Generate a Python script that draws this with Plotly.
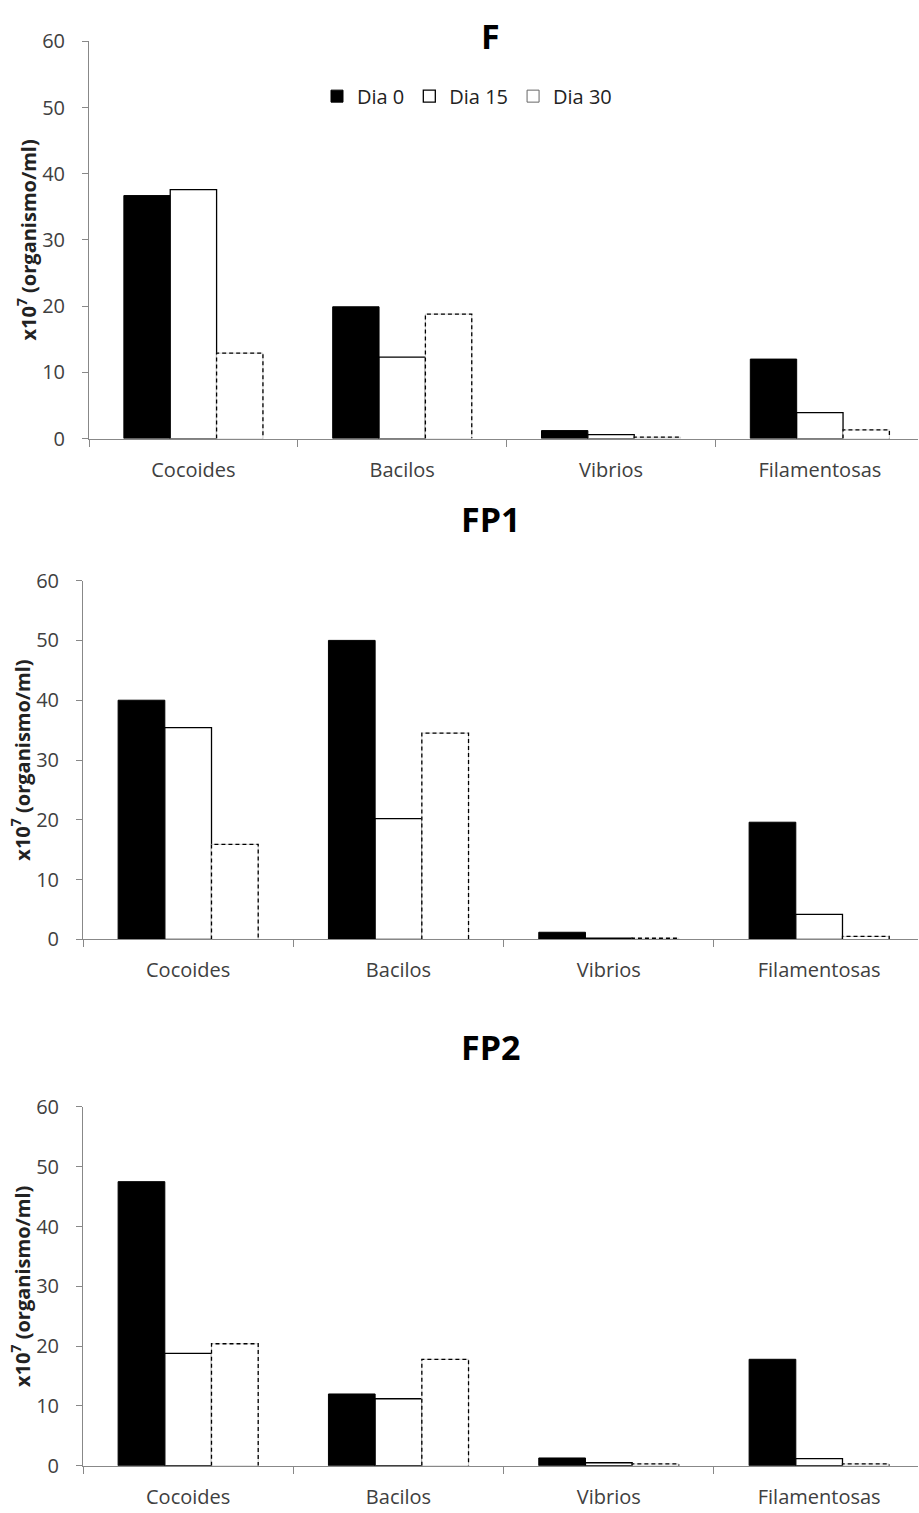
import plotly.graph_objects as go

categories = ["Cocoides", "Bacilos", "Vibrios", "Filamentosas"]
series_names = ["Dia 0", "Dia 15", "Dia 30"]
panel_titles = ["F", "FP1", "FP2"]

F_dia0 = [36.7, 19.9, 1.2, 12.0]
F_dia15 = [37.6, 12.3, 0.6, 3.9]
F_dia30 = [12.9, 18.8, 0.2, 1.3]

FP1_dia0 = [40.0, 50.0, 1.2, 19.6]
FP1_dia15 = [35.4, 20.2, 0.2, 4.2]
FP1_dia30 = [15.9, 34.5, 0.2, 0.5]

FP2_dia0 = [47.5, 12.0, 1.3, 17.8]
FP2_dia15 = [18.8, 11.2, 0.5, 1.2]
FP2_dia30 = [20.4, 17.8, 0.3, 0.3]

yticks = [0, 10, 20, 30, 40, 50, 60]
y_title = "<b>x10<sup>7</sup> (organismo/ml)</b>"

panels = [
    (F_dia0, F_dia15, F_dia30),
    (FP1_dia0, FP1_dia15, FP1_dia30),
    (FP2_dia0, FP2_dia15, FP2_dia30),
]

W, H = 919, 1513
# target pixel geometry of each plot area (top, bottom, left)
geo = [(39, 437.5, 89), (580, 940, 83), (1108, 1468, 83)]
title_y = [20, 520, 1050]

BW = 0.222
offsets = [-1.5 * BW, -0.5 * BW, 0.5 * BW]
xpos = list(range(len(categories)))

fig = go.Figure()
FONT = "Open Sans"
tickfont = dict(family=FONT, size=20, color="#404040")

# empirical correction of the vertical placement seen in the rendered page
SY, BY = 0.9853, 11.6


def py(v):
    d = (v - BY) / SY
    return 1 - d / H


def px(v):
    return v / W


for p, (d0, d15, d30) in enumerate(panels):
    xa = "x" if p == 0 else f"x{p+1}"
    ya = "y" if p == 0 else f"y{p+1}"
    show = p == 0
    fig.add_trace(go.Bar(x=xpos, y=d0, width=BW, offset=offsets[0], name=series_names[0],
                         marker=dict(color="black", line=dict(color="black", width=1)),
                         xaxis=xa, yaxis=ya, showlegend=show, legendgroup="d0"))
    fig.add_trace(go.Bar(x=xpos, y=d15, width=BW, offset=offsets[1], name=series_names[1],
                         marker=dict(color="white", line=dict(color="black", width=1.3)),
                         xaxis=xa, yaxis=ya, showlegend=show, legendgroup="d15"))
    fig.add_trace(go.Bar(x=xpos, y=d30, width=BW, offset=offsets[2], name=series_names[2],
                         marker=dict(color="white", line=dict(color="#d0d0d0", width=1)),
                         xaxis=xa, yaxis=ya, showlegend=False, legendgroup="d30"))
    if show:
        fig.add_trace(go.Bar(x=[None], y=[None], name=series_names[2],
                             marker=dict(color="white", line=dict(color="#666", width=1)),
                             xaxis=xa, yaxis=ya, showlegend=True, legendgroup="d30"))
    ox, oy = [], []
    for xi, v in zip(xpos, d30):
        x0 = xi + offsets[2]
        x1 = x0 + BW
        ox += [x0, x0, x1, x1, None]
        oy += [0, v, v, 0, None]
    fig.add_trace(go.Scatter(x=ox, y=oy, mode="lines", line=dict(color="black", width=1.3, dash="4px,3px"),
                             xaxis=xa, yaxis=ya, showlegend=False, hoverinfo="skip"))

    top, bot, left = geo[p]
    xkey = "xaxis" if p == 0 else f"xaxis{p+1}"
    ykey = "yaxis" if p == 0 else f"yaxis{p+1}"
    fig.update_layout(**{
        xkey: dict(domain=[px(left), px(918)], range=[-0.5, 3.47], anchor=ya,
                   tickmode="array", tickvals=xpos, ticktext=categories, ticks="",
                   ticklabelstandoff=13,
                   showline=True, linecolor="#888", linewidth=1, showgrid=False, zeroline=False,
                   tickfont=tickfont,
                   minor=dict(tickmode="array", tickvals=[-0.5, 0.5, 1.5, 2.5, 3.5], ticks="outside",
                              ticklen=7, tickcolor="#888", showgrid=False)),
        ykey: dict(domain=[py(bot), py(top)], range=[0, 60], anchor=xa,
                   tickmode="array", tickvals=yticks, ticks="outside", ticklen=6, tickcolor="#888",
                   ticklabelstandoff=13,
                   showline=True, linecolor="#888", linewidth=1, showgrid=False, zeroline=False,
                   tickfont=tickfont,
                   title=dict(text=y_title, font=dict(family=FONT, size=20, color="#222"), standoff=0)),
    })
    if p == 0:
        fig.add_annotation(text=f"<b>{panel_titles[p]}</b>", x=px(490), y=1.0, yshift=3,
                           xref="paper", yref="paper", showarrow=False,
                           font=dict(family=FONT, size=34, color="black"), yanchor="top")
    else:
        fig.add_annotation(text=f"<b>{panel_titles[p]}</b>", x=px(490), y=py(title_y[p] - 2),
                           xref="paper", yref="paper", showarrow=False,
                           font=dict(family=FONT, size=34, color="black"), yanchor="middle")

fig.update_layout(
    width=W, height=H, margin=dict(l=0, r=0, t=0, b=0),
    plot_bgcolor="white", paper_bgcolor="white",
    barmode="overlay",
    legend=dict(orientation="h", x=px(467), xanchor="center", y=py(94), yanchor="middle",
                font=dict(family=FONT, size=20, color="#222"), bgcolor="rgba(0,0,0,0)",
                itemwidth=30, traceorder="normal"),
)

fig.write_html("out.html", config={"displayModeBar": False},
               post_script="document.body.style.margin='0';document.body.style.overflow='hidden';")
